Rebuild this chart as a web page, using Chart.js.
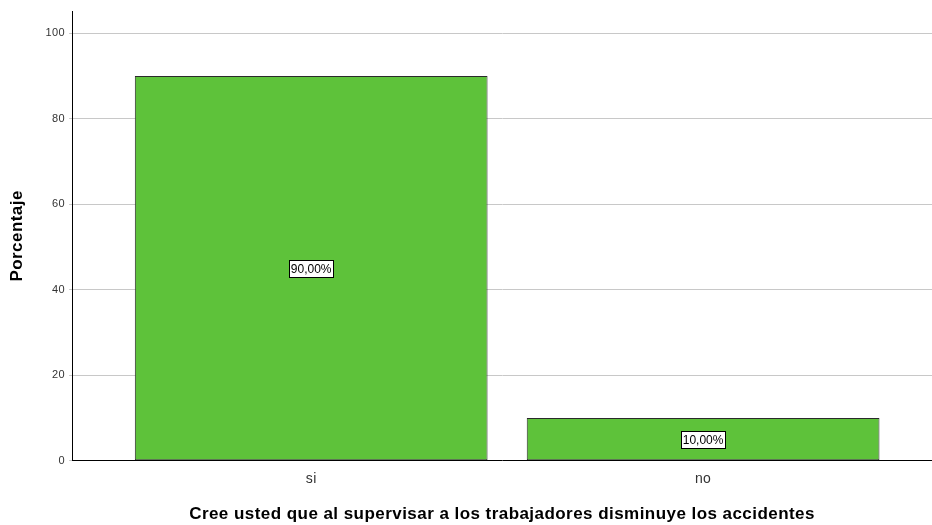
<!DOCTYPE html>
<html>
<head>
<meta charset="utf-8">
<script src="https://cdn.jsdelivr.net/npm/chart.js@4/dist/chart.umd.min.js"></script>
<style>
html,body{margin:0;padding:0;background:#fff;}
#wrap{width:932px;height:525px;position:relative;}
</style>
</head>
<body>
<div id="wrap"><canvas id="c"></canvas></div>
<script>
const categories = ['si', 'no'];
const percentages = [90, 10];
const valueLabels = ['90,00%', '10,00%'];
const yTicks = [0, 20, 40, 60, 80, 100];
const xTitle = 'Cree usted que al supervisar a los trabajadores disminuye los accidentes';
const yTitle = 'Porcentaje';

const FONT = '"Liberation Sans", Arial, sans-serif';
const LS = '0.45px';

const spacing = {
  id: 'spacing',
  beforeUpdate(chart) { chart.ctx.letterSpacing = LS; },
  beforeLayout(chart) { chart.ctx.letterSpacing = LS; },
  beforeDraw(chart) { chart.ctx.letterSpacing = LS; }
};

const boxLabels = {
  id: 'boxLabels',
  afterDatasetsDraw(chart) {
    const ctx = chart.ctx;
    const meta = chart.getDatasetMeta(0);
    ctx.save();
    ctx.letterSpacing = '0px';
    ctx.font = '12px ' + FONT;
    ctx.textAlign = 'center';
    ctx.textBaseline = 'middle';
    meta.data.forEach((bar, i) => {
      const y = chart.scales.y.getPixelForValue(percentages[i] / 2);
      const x = bar.x;
      const w = Math.round(ctx.measureText(valueLabels[i]).width + 3);
      const h = 17;
      const lx = Math.round(x - w / 2) + 0.5, ly = Math.round(y - h / 2) + 0.5;
      ctx.fillStyle = '#fff';
      ctx.fillRect(lx, ly, w, h);
      ctx.strokeStyle = '#000';
      ctx.lineWidth = 1;
      ctx.strokeRect(lx, ly, w, h);
      ctx.fillStyle = '#000';
      ctx.fillText(valueLabels[i], x, y + 1);
    });
    ctx.restore();
  }
};

new Chart(document.getElementById('c'), {
  type: 'bar',
  data: {
    datasets: [{
      data: percentages.map((v, i) => ({ x: i + 1, y: v })),
      backgroundColor: '#5ec23a',
      borderColor: '#2a2a2a',
      borderWidth: 1,
      borderSkipped: false,
      barPercentage: 0.9,
      categoryPercentage: 1
    }]
  },
  options: {
    responsive: true,
    maintainAspectRatio: false,
    animation: false,
    layout: { padding: { top: 11, right: 0, left: 7, bottom: 0 } },
    plugins: { legend: { display: false }, tooltip: { enabled: false } },
    scales: {
      x: {
        type: 'linear',
        offset: false,
        bounds: 'ticks',
        min: 0.39,
        max: 2.584,
        afterBuildTicks(axis) { axis.ticks = categories.map((c, i) => ({ value: i + 1 })); },
        ticks: {
          callback: (v) => categories[v - 1] || '',
          font: { family: FONT, size: 14 },
          color: '#333',
          padding: 6,
          maxRotation: 0,
          autoSkip: false
        },
        grid: { display: false, offset: false, drawTicks: true, tickLength: 4 },
        border: { display: true, color: '#000', width: 1 },
        title: {
          display: true,
          text: xTitle,
          font: { family: FONT, size: 17, weight: 'bold' },
          color: '#000',
          padding: { top: 11, bottom: 0 }
        }
      },
      y: {
        min: 0,
        max: 105.2,
        afterBuildTicks(axis) { axis.ticks = yTicks.map(v => ({ value: v })); },
        ticks: {
          font: { family: FONT, size: 11 },
          color: '#333',
          padding: 4
        },
        grid: {
          color: (c) => c.tick && c.tick.value === 0 ? 'rgba(0,0,0,0)' : '#c8c8c8',
          lineWidth: 1,
          drawTicks: true,
          tickLength: 3,
          tickColor: '#c8c8c8'
        },
        border: { display: true, color: '#000', width: 1 },
        title: {
          display: true,
          text: yTitle,
          font: { family: FONT, size: 17, weight: 'bold' },
          color: '#000',
          padding: { top: 0, bottom: 14 }
        }
      }
    }
  },
  plugins: [spacing, boxLabels]
});
</script>
</body>
</html>
